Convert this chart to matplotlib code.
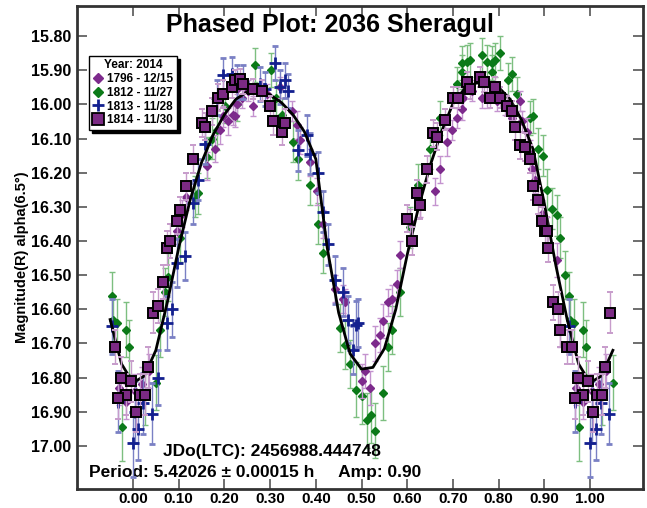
import numpy as np
import matplotlib.pyplot as plt
from matplotlib.lines import Line2D

plt.rcParams['font.family'] = ['Liberation Sans', 'DejaVu Sans']
plt.rcParams['font.weight'] = 'bold'

# phase, magnitude, error for each night
obs_1796 = [
    (0.970, 16.83, 0.05), (0.985, 16.87, 0.05), (0.005, 16.84, 0.05), (0.020, 16.82, 0.05),
    (0.035, 16.78, 0.05), (0.096, 16.37, 0.04), (0.107, 16.32, 0.04), (0.117, 16.27, 0.04),
    (0.161, 16.18, 0.04), (0.179, 16.13, 0.04), (0.190, 16.075, 0.04), (0.208, 16.05, 0.04),
    (0.223, 16.035, 0.03), (0.198, 16.035, 0.03), (0.227, 16.00, 0.03), (0.219, 16.03, 0.03),
    (0.238, 15.98, 0.03), (0.263, 16.005, 0.03), (0.252, 15.96, 0.03), (0.227, 15.955, 0.03),
    (0.293, 15.97, 0.03), (0.322, 15.95, 0.03), (0.347, 16.02, 0.03), (0.358, 16.06, 0.04),
    (0.365, 16.105, 0.04), (0.387, 16.17, 0.04), (0.402, 16.255, 0.04), (0.416, 16.35, 0.04),
    (0.442, 16.54, 0.04), (0.460, 16.57, 0.04), (0.464, 16.58, 0.04), (0.500, 16.81, 0.05),
    (0.519, 16.83, 0.05), (0.508, 16.78, 0.05), (0.530, 16.70, 0.05), (0.540, 16.675, 0.05),
    (0.548, 16.635, 0.05), (0.559, 16.58, 0.04), (0.566, 16.57, 0.04), (0.577, 16.525, 0.04),
    (0.584, 16.44, 0.04), (0.606, 16.345, 0.04), (0.628, 16.29, 0.04), (0.660, 16.255, 0.04),
    (0.672, 16.19, 0.04), (0.686, 16.11, 0.04), (0.698, 16.075, 0.03), (0.708, 16.04, 0.03),
    (0.719, 16.015, 0.03), (0.723, 15.98, 0.03), (0.741, 15.96, 0.03), (0.763, 15.98, 0.03),
    (0.774, 15.98, 0.03), (0.796, 15.99, 0.03), (0.814, 16.00, 0.03), (0.829, 16.04, 0.03),
    (0.847, 15.99, 0.03), (0.851, 16.05, 0.03), (0.862, 16.08, 0.04), (0.869, 16.145, 0.04),
    (0.872, 16.19, 0.04), (0.880, 16.22, 0.04), (0.894, 16.32, 0.04), (0.905, 16.37, 0.04),
    (0.927, 16.455, 0.05), (0.934, 16.66, 0.05),
]

obs_1812 = [
    (0.955, 16.56, 0.07), (0.957, 16.63, 0.07), (0.966, 16.64, 0.07), (0.985, 16.66, 0.08),
    (0.992, 16.71, 0.08), (0.975, 16.945, 0.10), (0.026, 16.85, 0.09), (0.050, 16.815, 0.08),
    (0.059, 16.66, 0.08), (0.070, 16.55, 0.07), (0.077, 16.505, 0.07), (0.945, 16.50, 0.07),
    (0.103, 16.39, 0.07), (0.136, 16.27, 0.06), (0.143, 16.26, 0.06), (0.161, 16.155, 0.06),
    (0.172, 16.10, 0.06), (0.183, 16.075, 0.06), (0.201, 16.005, 0.05), (0.227, 16.00, 0.05),
    (0.267, 15.885, 0.05), (0.303, 15.90, 0.05), (0.314, 15.98, 0.05), (0.325, 16.03, 0.05),
    (0.351, 16.11, 0.06), (0.362, 16.16, 0.06), (0.387, 16.235, 0.06), (0.405, 16.35, 0.06),
    (0.416, 16.435, 0.06), (0.453, 16.655, 0.07), (0.464, 16.705, 0.07), (0.475, 16.76, 0.07),
    (0.489, 16.835, 0.08), (0.502, 16.855, 0.08), (0.511, 16.925, 0.08), (0.520, 16.91, 0.08),
    (0.530, 16.955, 0.08), (0.548, 16.845, 0.08), (0.559, 16.71, 0.07), (0.566, 16.66, 0.07),
    (0.584, 16.55, 0.07), (0.606, 16.36, 0.06), (0.624, 16.235, 0.06), (0.650, 16.13, 0.06),
    (0.672, 16.04, 0.05), (0.708, 15.94, 0.05), (0.719, 15.905, 0.05), (0.719, 15.88, 0.05),
    (0.730, 15.875, 0.05), (0.737, 15.87, 0.05), (0.763, 15.855, 0.05), (0.774, 15.875, 0.05),
    (0.785, 15.88, 0.05), (0.792, 15.87, 0.05), (0.803, 15.85, 0.05), (0.785, 15.905, 0.05),
    (0.829, 15.91, 0.05), (0.821, 15.93, 0.05), (0.840, 15.97, 0.05), (0.869, 16.04, 0.05),
    (0.876, 16.035, 0.05), (0.887, 16.13, 0.06), (0.898, 16.15, 0.06), (0.905, 16.25, 0.06),
    (0.916, 16.305, 0.06), (0.927, 16.325, 0.06), (0.934, 16.39, 0.06),
]

obs_1813 = [
    (0.953, 16.65, 0.08), (0.968, 16.87, 0.09), (0.004, 16.90, 0.09), (0.001, 16.99, 0.10),
    (0.012, 16.95, 0.09), (0.023, 16.875, 0.09), (0.041, 16.905, 0.09), (0.055, 16.80, 0.08),
    (0.074, 16.64, 0.08), (0.085, 16.60, 0.08), (0.096, 16.465, 0.07), (0.114, 16.445, 0.07),
    (0.132, 16.29, 0.06), (0.143, 16.22, 0.06), (0.158, 16.115, 0.06), (0.183, 15.98, 0.05),
    (0.198, 15.915, 0.05), (0.216, 15.91, 0.05), (0.227, 15.935, 0.05), (0.241, 15.935, 0.05),
    (0.278, 15.94, 0.05), (0.289, 15.955, 0.05), (0.311, 15.88, 0.05), (0.322, 15.95, 0.05),
    (0.333, 15.93, 0.05), (0.340, 15.96, 0.05), (0.362, 16.135, 0.06), (0.380, 16.09, 0.06),
    (0.387, 16.145, 0.06), (0.405, 16.20, 0.06), (0.416, 16.315, 0.06), (0.427, 16.41, 0.06),
    (0.442, 16.515, 0.07), (0.460, 16.55, 0.07), (0.471, 16.63, 0.07), (0.489, 16.645, 0.07),
    (0.482, 16.72, 0.07), (0.493, 16.64, 0.07),
]

obs_1814 = [
    (0.909, 16.42, 0.04), (0.902, 16.37, 0.04), (0.920, 16.58, 0.05), (0.931, 16.60, 0.05),
    (0.934, 16.66, 0.05), (0.949, 16.71, 0.05), (0.960, 16.71, 0.05), (0.974, 16.80, 0.06),
    (0.996, 16.81, 0.06), (0.985, 16.85, 0.06), (0.967, 16.86, 0.06), (0.007, 16.90, 0.06),
    (0.015, 16.85, 0.06), (0.026, 16.85, 0.06), (0.033, 16.77, 0.06), (0.044, 16.61, 0.06),
    (0.055, 16.59, 0.05), (0.066, 16.52, 0.05), (0.074, 16.42, 0.05), (0.081, 16.40, 0.05),
    (0.096, 16.34, 0.04), (0.103, 16.31, 0.04), (0.117, 16.24, 0.04), (0.132, 16.16, 0.04),
    (0.150, 16.055, 0.04), (0.158, 16.065, 0.04), (0.172, 16.02, 0.04), (0.187, 15.98, 0.04),
    (0.198, 15.97, 0.04), (0.216, 15.95, 0.03), (0.223, 15.93, 0.03), (0.234, 15.925, 0.03),
    (0.241, 15.94, 0.03), (0.263, 15.955, 0.03), (0.282, 15.96, 0.03), (0.300, 16.005, 0.03),
    (0.307, 16.05, 0.04), (0.325, 16.08, 0.04), (0.333, 16.055, 0.04), (0.599, 16.335, 0.04),
    (0.610, 16.40, 0.04), (0.621, 16.26, 0.04), (0.628, 16.295, 0.04), (0.643, 16.19, 0.04),
    (0.657, 16.085, 0.04), (0.665, 16.095, 0.04), (0.683, 16.045, 0.03), (0.701, 15.98, 0.03),
    (0.712, 15.98, 0.03), (0.730, 15.935, 0.03), (0.737, 15.955, 0.03), (0.759, 15.92, 0.03),
    (0.767, 15.935, 0.03), (0.781, 15.98, 0.03), (0.792, 15.95, 0.03), (0.803, 15.98, 0.03),
    (0.818, 16.005, 0.03), (0.829, 16.02, 0.03), (0.836, 16.065, 0.04), (0.847, 16.12, 0.04),
    (0.858, 16.125, 0.04), (0.869, 16.16, 0.04), (0.876, 16.24, 0.04), (0.887, 16.28, 0.04),
    (0.894, 16.34, 0.04), (0.905, 16.37, 0.04),
]

# Fourier fit curve read at 0.025 phase steps
fit_phase = np.arange(0, 1, 0.025)
fit_mag = [16.815, 16.795, 16.72, 16.58, 16.42, 16.28, 16.17, 16.09, 16.03, 15.985,
           15.963, 15.958, 15.972, 15.995, 16.03, 16.08, 16.16, 16.42, 16.61, 16.73,
           16.775, 16.77, 16.715, 16.60, 16.44, 16.30, 16.18, 16.08, 15.998, 15.955,
           15.938, 15.935, 15.95, 15.985, 16.045, 16.13, 16.29, 16.47, 16.63, 16.76]

lo, hi = -0.05, 1.05


def wrap(p, m, e):
    # repeat points near phase 0/1 on the other side
    p, m, e = np.asarray(p), np.asarray(m), np.asarray(e)
    ps = np.concatenate([p, p + 1, p - 1])
    ms = np.concatenate([m, m, m])
    es = np.concatenate([e, e, e])
    keep = (ps >= lo) & (ps <= hi)
    return ps[keep], ms[keep], es[keep]


fig = plt.figure(figsize=(6.47, 5.08), dpi=100)
ax = fig.add_axes([0.119, 0.0374, 0.8749, 0.9508])

styles = [
    (obs_1812, dict(fmt='D', color='#0b7a18', ecolor='#7dbf80', ms=4.5, mec='#0b7a18'), 2),
    (obs_1796, dict(fmt='D', color='#7d2a8c', ecolor='#c493cf', ms=4.5, mec='#7d2a8c'), 3),
    (obs_1813, dict(fmt='+', color='#13208f', ecolor='#7a80c4', ms=8, mew=2), 4),
    (obs_1814, dict(fmt='s', color='#7b2a84', ecolor='#c79ccb', ms=6.5, mec='black', mew=1.4), 6),
]
for obs, kw, z in styles:
    p, m, e = wrap(*zip(*obs))
    ax.errorbar(p, m, yerr=e, elinewidth=1, capsize=2.5, capthick=1, zorder=z, **kw)

fp = np.concatenate([fit_phase - 1, fit_phase, fit_phase + 1, [2.0]])
fm = np.concatenate([fit_mag, fit_mag, fit_mag, fit_mag[:1]])
sel = (fp >= lo) & (fp <= hi)
ax.plot(fp[sel], fm[sel], color='black', lw=2, zorder=5)

ax.set_xlim(-0.1225, 1.116)
ax.set_ylim(17.126, 15.712)
ax.set_xticks(np.arange(0, 1.01, 0.1))
ax.set_yticks(np.arange(15.8, 17.01, 0.1))
ax.xaxis.set_major_formatter(plt.FormatStrFormatter('%.2f'))
ax.yaxis.set_major_formatter(plt.FormatStrFormatter('%.2f'))
ax.tick_params(direction='in', length=7, width=1.2, color='#555555', top=True, right=True,
               labelsize=11.5, pad=4)
ax.tick_params(axis='x', labelsize=11, pad=2.5)
for s in ax.spines.values():
    s.set_linewidth(2)
    s.set_color('#333333')

ax.set_ylabel('Magnitude(R) alpha(6.5°)', fontsize=10.5, fontweight='bold')
ax.yaxis.set_label_coords(-0.085, 0.48)
ax.text(0.447, 0.985, 'Phased Plot: 2036 Sheragul', transform=ax.transAxes, ha='center',
        va='top', fontsize=18, fontweight='bold')
ax.text(0.152, 0.077, 'JDo(LTC): 2456988.444748', transform=ax.transAxes, ha='left',
        va='center', fontsize=12.5, fontweight='bold')
ax.text(0.021, 0.035, 'Period: 5.42026 ± 0.00015 h     Amp: 0.90', transform=ax.transAxes,
        ha='left', va='center', fontsize=12.5, fontweight='bold')

handles = [
    Line2D([], [], ls='none', marker='D', color='#7d2a8c', ms=5),
    Line2D([], [], ls='none', marker='D', color='#0b7a18', ms=5),
    Line2D([], [], ls='none', marker='+', color='#13208f', ms=9, mew=2),
    Line2D([], [], ls='none', marker='s', color='#7b2a84', mec='black', ms=8, mew=1.3),
]
labels = ['1796 - 12/15', '1812 - 11/27', '1813 - 11/28', '1814 - 11/30']
leg = ax.legend(handles, labels, title='Year: 2014', loc='upper left',
                bbox_to_anchor=(0.022, 0.897), fancybox=False, framealpha=1,
                edgecolor='black', shadow={'color': 'black', 'alpha': 1},
                prop={'size': 8.5, 'weight': 'bold'}, handlelength=0.8, handletextpad=0.4,
                borderpad=0.3, labelspacing=0.15, borderaxespad=0)
leg.get_title().set_fontweight('bold')
leg.get_title().set_fontsize(8.5)
leg.get_frame().set_linewidth(1)
leg.set_zorder(10)

fig.savefig('out.png', dpi=100)
